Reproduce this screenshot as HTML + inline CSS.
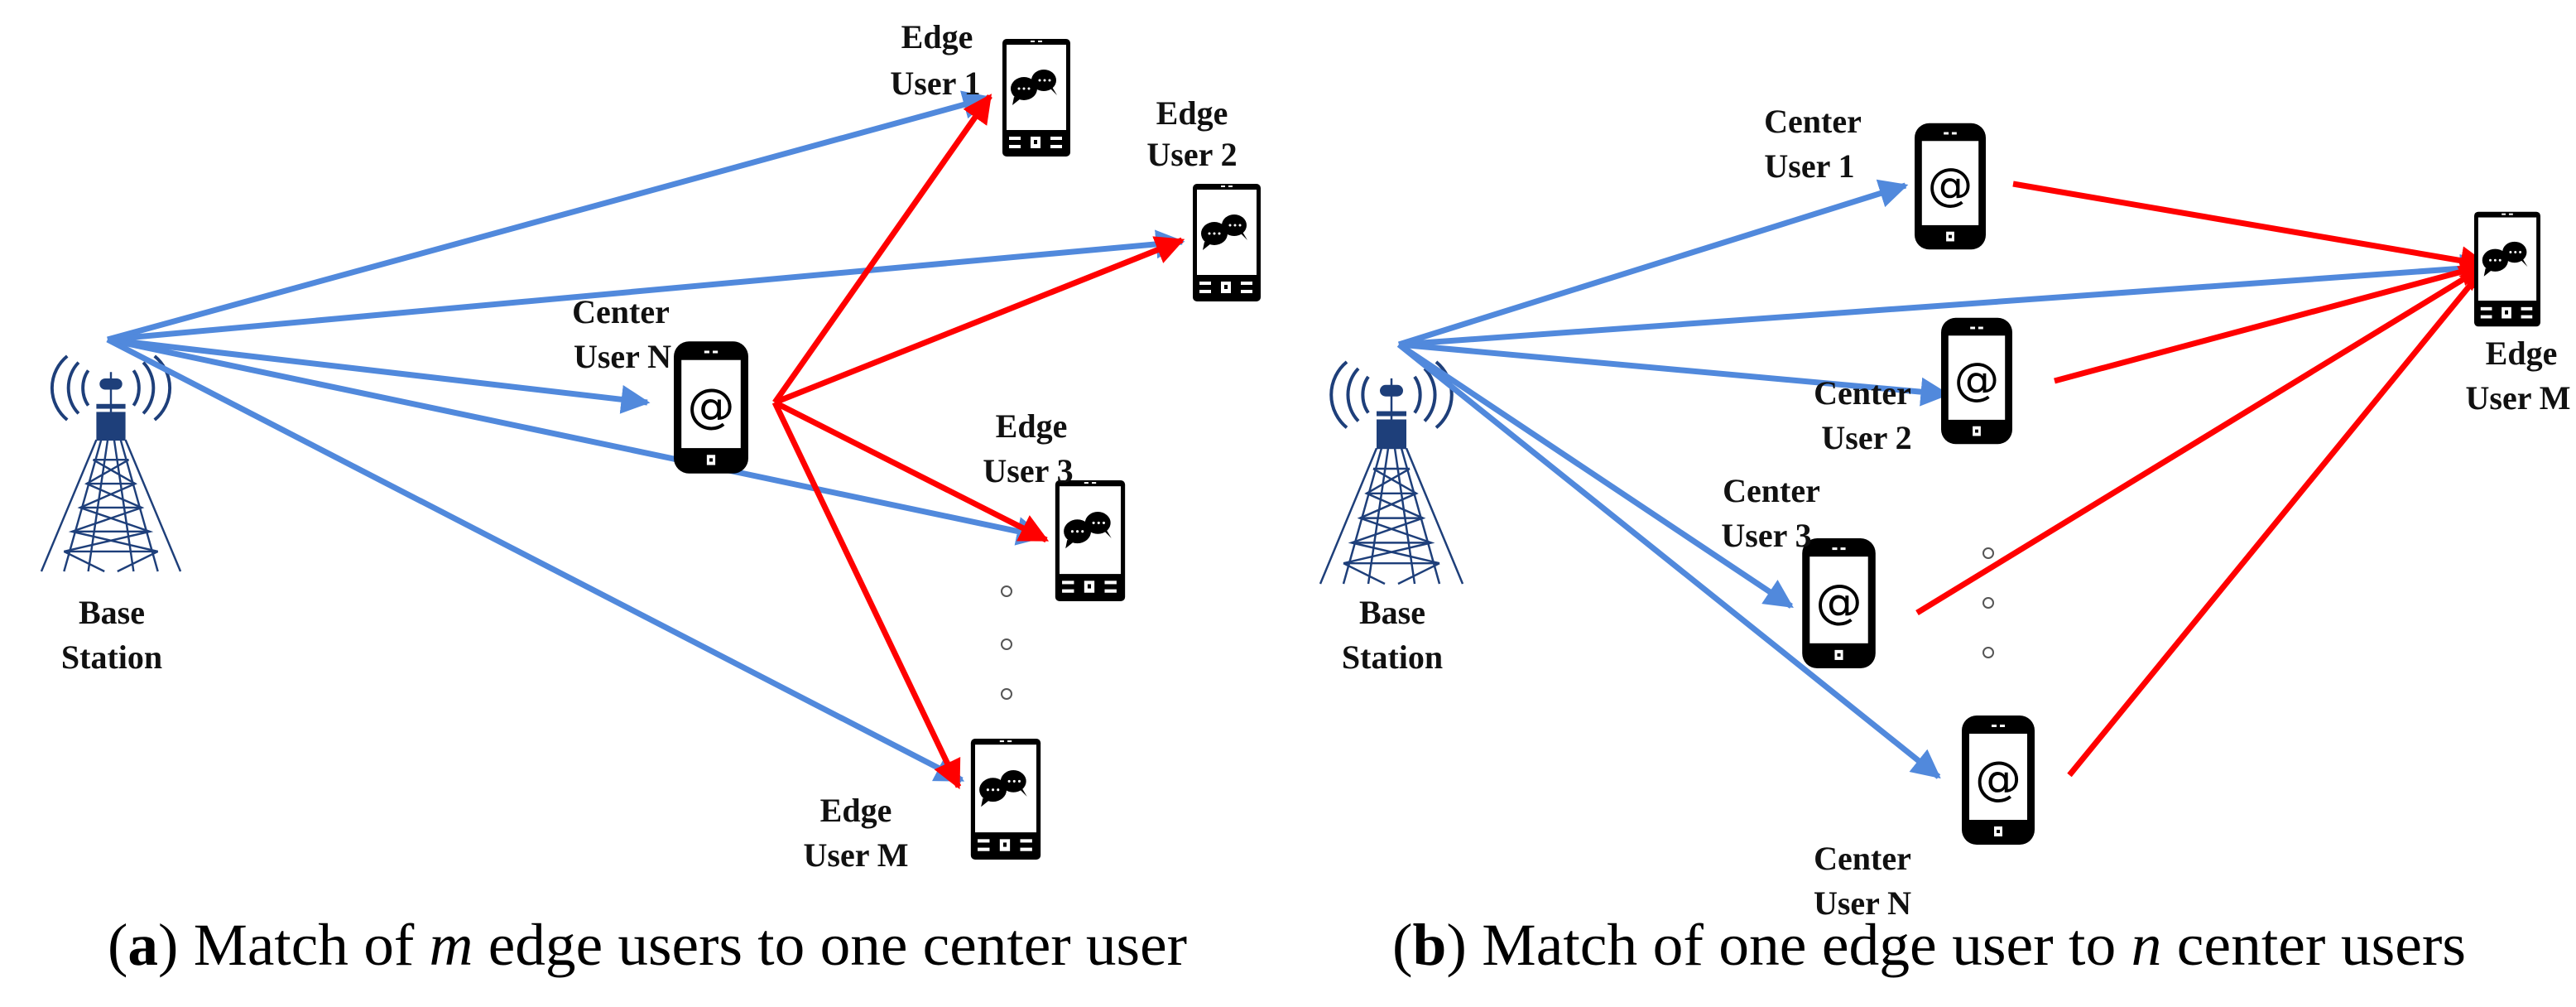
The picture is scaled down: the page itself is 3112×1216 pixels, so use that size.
<!DOCTYPE html>
<html><head><meta charset="utf-8"><style>
html,body{margin:0;padding:0;background:#fff;}
svg{display:block;}
.lb{font-family:"Liberation Serif",serif;font-weight:bold;font-size:40px;fill:#111;}
.cap{font-family:"Liberation Serif",serif;font-size:72px;fill:#000;}
</style></head><body>
<svg width="3112" height="1216" viewBox="0 0 3112 1216" xmlns="http://www.w3.org/2000/svg">
<defs>
<marker id="ab" viewBox="0 0 10 10" refX="9" refY="5" markerWidth="5" markerHeight="5" orient="auto" markerUnits="strokeWidth"><path d="M0,0 L10,5 L0,10 z" fill="#5189dc"/></marker>
<marker id="ar" viewBox="0 0 10 10" refX="9" refY="5" markerWidth="5" markerHeight="5" orient="auto" markerUnits="strokeWidth"><path d="M0,0 L10,5 L0,10 z" fill="#f00"/></marker>
<symbol id="pat" viewBox="0 0 88 156">
<rect x="0" y="0" width="88" height="156" rx="18" fill="#000"/>
<rect x="9" y="22" width="70" height="104" fill="#fff"/>
<rect x="36" y="11" width="6" height="3" fill="#fff"/><rect x="46" y="11" width="6" height="3" fill="#fff"/>
<rect x="39" y="134" width="10" height="12" fill="#fff"/><rect x="42" y="138" width="4" height="4" fill="#000"/>
<text x="44" y="95" text-anchor="middle" font-family="DejaVu Sans,sans-serif" font-size="56" fill="#000">@</text>
</symbol>
<symbol id="pch" viewBox="0 0 82 142">
<rect x="0" y="0" width="82" height="142" rx="5" fill="#000"/>
<rect x="5" y="7" width="72" height="103" fill="#fff"/>
<rect x="34" y="2" width="5" height="2" fill="#fff"/><rect x="43" y="2" width="5" height="2" fill="#fff"/>
<ellipse cx="26" cy="60" rx="16" ry="14" fill="#000"/><ellipse cx="50" cy="50" rx="15" ry="13" fill="#000"/>
<path d="M14,70 L12,80 L22,72z M60,58 L66,68 L58,60z" fill="#000"/>
<circle cx="20" cy="60" r="1.5" fill="#fff"/><circle cx="26" cy="60" r="1.5" fill="#fff"/><circle cx="32" cy="60" r="1.5" fill="#fff"/>
<circle cx="45" cy="50" r="1.5" fill="#fff"/><circle cx="51" cy="50" r="1.5" fill="#fff"/><circle cx="57" cy="50" r="1.5" fill="#fff"/>
<rect x="8" y="118" width="14" height="4" fill="#fff"/><rect x="8" y="128" width="14" height="4" fill="#fff"/>
<rect x="34" y="118" width="12" height="14" fill="#fff"/><rect x="38" y="122" width="4" height="5" fill="#000"/>
<rect x="58" y="118" width="14" height="4" fill="#fff"/><rect x="58" y="128" width="14" height="4" fill="#fff"/>
</symbol>
<symbol id="tower" viewBox="0 0 176 270" preserveAspectRatio="none" overflow="visible">
<g fill="none" stroke="#1e3f7a" stroke-width="4">
<path d="M60,18 a28,34 0 0 0 0,44 M48,8 a40,44 0 0 0 0,64 M34,0 a52,52 0 0 0 0,80"/>
<path d="M116,18 a28,34 0 0 1 0,44 M128,8 a40,44 0 0 1 0,64 M142,0 a52,52 0 0 1 0,80"/>
</g>
<g stroke="#1e3f7a" stroke-width="2.5" fill="none">
<path d="M88,20 L88,90"/>
<path d="M70,105 L2,270 M106,105 L174,270 M76,105 L30,270 M100,105 L146,270 M84,105 L60,270 M92,105 L116,270"/>
<path d="M66,130 L110,130 M58,160 L118,160 M50,190 L126,190 M40,220 L136,220 M30,245 L146,245"/>
<path d="M66,130 L118,160 L50,190 L136,220 L30,245 M110,130 L58,160 L126,190 L40,220 L146,245 M30,245 L80,270 M146,245 L96,270"/>
</g>
<rect x="74" y="28" width="28" height="14" rx="7" fill="#1e3f7a"/>
<rect x="70" y="70" width="36" height="36" fill="#1e3f7a"/>
<rect x="70" y="60" width="36" height="6" fill="#1e3f7a"/>
</symbol>
</defs>

<!-- Panel a -->
<use href="#tower" x="48" y="430" width="172" height="260"/>
<text class="lb" x="135" y="753" text-anchor="middle">Base</text>
<text class="lb" x="135" y="807" text-anchor="middle">Station</text>

<g stroke="#5189dc" stroke-width="7" fill="none">
<line x1="130" y1="410" x2="1195" y2="118" marker-end="url(#ab)"/>
<line x1="130" y1="410" x2="1428" y2="292" marker-end="url(#ab)"/>
<line x1="130" y1="410" x2="782" y2="486" marker-end="url(#ab)"/>
<line x1="130" y1="410" x2="1260" y2="648" marker-end="url(#ab)"/>
<line x1="130" y1="410" x2="1162" y2="942" marker-end="url(#ab)"/>
</g>
<use href="#pat" x="814" y="410" width="90" height="164"/>
<g stroke="#f00" stroke-width="7" fill="none">
<line x1="936" y1="486" x2="1196" y2="116" marker-end="url(#ar)"/>
<line x1="936" y1="486" x2="1428" y2="290" marker-end="url(#ar)"/>
<line x1="936" y1="486" x2="1264" y2="652" marker-end="url(#ar)"/>
<line x1="936" y1="486" x2="1158" y2="950" marker-end="url(#ar)"/>
</g>
<use href="#pch" x="1211" y="47" width="82" height="142"/>
<use href="#pch" x="1441" y="222" width="82" height="142"/>
<use href="#pch" x="1274" y="580" width="86" height="146"/>
<use href="#pch" x="1172" y="892" width="86" height="146"/>

<text class="lb" x="750" y="390" text-anchor="middle">Center</text>
<text class="lb" x="752" y="444" text-anchor="middle">User N</text>
<text class="lb" x="1132" y="58" text-anchor="middle">Edge</text>
<text class="lb" x="1130" y="114" text-anchor="middle">User  1</text>
<text class="lb" x="1440" y="150" text-anchor="middle">Edge</text>
<text class="lb" x="1440" y="200" text-anchor="middle">User 2</text>
<text class="lb" x="1246" y="528" text-anchor="middle">Edge</text>
<text class="lb" x="1242" y="582" text-anchor="middle">User 3</text>
<text class="lb" x="1034" y="992" text-anchor="middle">Edge</text>
<text class="lb" x="1034" y="1046" text-anchor="middle">User M</text>
<g fill="none" stroke="#555" stroke-width="2"><circle cx="1216" cy="714" r="6"/><circle cx="1216" cy="778" r="6"/><circle cx="1216" cy="838" r="6"/></g>

<!-- Panel b -->
<use href="#tower" x="1593" y="437" width="176" height="268"/>
<text class="lb" x="1682" y="753" text-anchor="middle">Base</text>
<text class="lb" x="1682" y="807" text-anchor="middle">Station</text>

<g stroke="#5189dc" stroke-width="7" fill="none">
<line x1="1690" y1="416" x2="2302" y2="224" marker-end="url(#ab)"/>
<line x1="1690" y1="416" x2="3004" y2="322" marker-end="url(#ab)"/>
<line x1="1690" y1="416" x2="2352" y2="476" marker-end="url(#ab)"/>
<line x1="1690" y1="416" x2="2164" y2="732" marker-end="url(#ab)"/>
<line x1="1690" y1="416" x2="2342" y2="938" marker-end="url(#ab)"/>
</g>
<g stroke="#f00" stroke-width="7" fill="none">
<line x1="2432" y1="222" x2="3004" y2="320" marker-end="url(#ar)"/>
<line x1="2482" y1="460" x2="3004" y2="320" marker-end="url(#ar)"/>
<line x1="2316" y1="740" x2="3004" y2="320" marker-end="url(#ar)"/>
<line x1="2500" y1="936" x2="3004" y2="320" marker-end="url(#ar)"/>
</g>
<use href="#pat" x="2313" y="147" width="86" height="156"/>
<use href="#pat" x="2345" y="382" width="86" height="156"/>
<use href="#pat" x="2177" y="650" width="89" height="157"/>
<use href="#pat" x="2370" y="864" width="88" height="156"/>
<use href="#pch" x="2989" y="253" width="80" height="144"/>

<text class="lb" x="2190" y="160" text-anchor="middle">Center</text>
<text class="lb" x="2186" y="214" text-anchor="middle">User 1</text>
<text class="lb" x="2250" y="488" text-anchor="middle">Center</text>
<text class="lb" x="2255" y="542" text-anchor="middle">User 2</text>
<text class="lb" x="2140" y="606" text-anchor="middle">Center</text>
<text class="lb" x="2134" y="660" text-anchor="middle">User 3</text>
<text class="lb" x="2250" y="1050" text-anchor="middle">Center</text>
<text class="lb" x="2250" y="1104" text-anchor="middle">User N</text>
<text class="lb" x="3046" y="440" text-anchor="middle">Edge</text>
<text class="lb" x="3042" y="494" text-anchor="middle">User M</text>
<g fill="none" stroke="#555" stroke-width="2"><circle cx="2402" cy="668" r="6"/><circle cx="2402" cy="728" r="6"/><circle cx="2402" cy="788" r="6"/></g>

<!-- Captions -->
<text class="cap" x="130" y="1165" textLength="1304" lengthAdjust="spacingAndGlyphs">(<tspan font-weight="bold">a</tspan>) Match of <tspan font-style="italic">m</tspan> edge users to one center user</text>
<text class="cap" x="1682" y="1165" textLength="1297" lengthAdjust="spacingAndGlyphs">(<tspan font-weight="bold">b</tspan>) Match of one edge user to <tspan font-style="italic">n</tspan> center users</text>
</svg>
</body></html>
